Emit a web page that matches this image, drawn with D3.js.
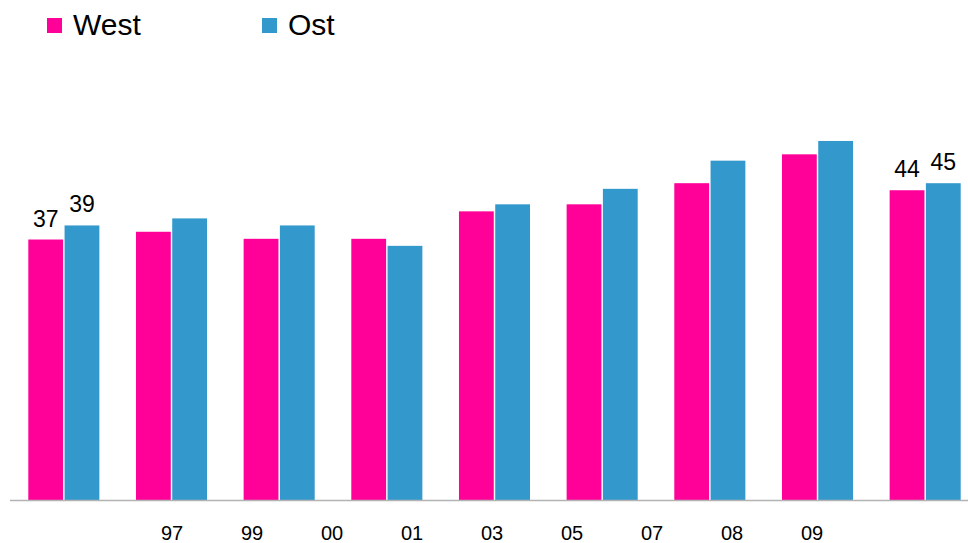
<!DOCTYPE html>
<html lang="de">
<head>
<meta charset="utf-8">
<title>West / Ost</title>
<style>
  body { margin: 0; background: #fff; }
  text { font-family: "Liberation Sans", Arial, sans-serif; fill: #000; }
</style>
</head>
<body>
<div id="chart"></div>
<script src="https://d3js.org/d3.v7.min.js"></script>
<script>
// data
var groups = ["g1", "g2", "g3", "g4", "g5", "g6", "g7", "g8", "g9"];
var series = ["West", "Ost"];
var west = [37, 38.1, 37.1, 37.1, 41, 42, 45, 49.1, 44];
var ost  = [39, 40, 39, 36.1, 42, 44.2, 48.2, 51, 45];
var tickLabels = ["97", "99", "00", "01", "03", "05", "07", "08", "09"];
var colors = ["#ff0099", "#3399cc"];
// only the first and last group carry value labels
var labelled = ["g1", "g9"];

var width = 968, height = 543;
var baseY = 500;

var svg = d3.select("#chart").append("svg")
    .attr("width", width)
    .attr("height", height);

var x0 = d3.scaleBand()
    .domain(groups)
    .range([10, 979])
    .paddingInner(0.34)
    .paddingOuter(0.17);

var x1 = d3.scaleBand()
    .domain(series)
    .range([0, x0.bandwidth()])
    .paddingInner(0.04);

var y = d3.scaleLinear()
    .domain([0, 10])
    .range([baseY, baseY - 70.4]);

var color = d3.scaleOrdinal().domain(series).range(colors);

var rows = groups.map(function(g, i) {
  return { group: g, values: [ { key: "West", v: west[i] }, { key: "Ost", v: ost[i] } ] };
});

var g = svg.selectAll("g.grp")
  .data(rows)
  .enter().append("g")
    .attr("class", "grp")
    .attr("transform", function(d) { return "translate(" + x0(d.group) + ",0)"; });

g.selectAll("rect")
  .data(function(d) { return d.values; })
  .enter().append("rect")
    .attr("x", function(d) { return x1(d.key); })
    .attr("width", x1.bandwidth())
    .attr("y", function(d) { return y(d.v); })
    .attr("height", function(d) { return baseY - y(d.v); })
    .attr("fill", function(d) { return color(d.key); });

g.filter(function(d) { return labelled.indexOf(d.group) >= 0; })
  .selectAll("text")
  .data(function(d) { return d.values; })
  .enter().append("text")
    .attr("x", function(d) { return x1(d.key) + x1.bandwidth() / 2; })
    .attr("y", function(d) { return y(d.v) - 13; })
    .attr("text-anchor", "middle")
    .style("font-size", "23px")
    .text(function(d) { return Math.round(d.v); });

// baseline
svg.append("line")
    .attr("x1", 10).attr("x2", width)
    .attr("y1", baseY + 0.5).attr("y2", baseY + 0.5)
    .attr("stroke", "#b3b3b3")
    .attr("stroke-width", 1.5);

// tick labels (they sit on their own spacing in the original)
var xt = d3.scalePoint().domain(tickLabels).range([172, 812]);
svg.selectAll("text.tick")
  .data(tickLabels)
  .enter().append("text")
    .attr("class", "tick")
    .attr("x", function(d) { return xt(d); })
    .attr("y", 540)
    .attr("text-anchor", "middle")
    .style("font-size", "20px")
    .text(function(d) { return d; });

// legend
var legendX = [47, 262];
var lg = svg.selectAll("g.legend")
  .data(series)
  .enter().append("g")
    .attr("class", "legend")
    .attr("transform", function(d, i) { return "translate(" + legendX[i] + ",18)"; });

lg.append("rect")
    .attr("width", 15).attr("height", 15)
    .attr("fill", function(d) { return color(d); });

lg.append("text")
    .attr("x", 26)
    .attr("y", 17)
    .style("font-size", "30px")
    .text(function(d) { return d; });
</script>
</body>
</html>
